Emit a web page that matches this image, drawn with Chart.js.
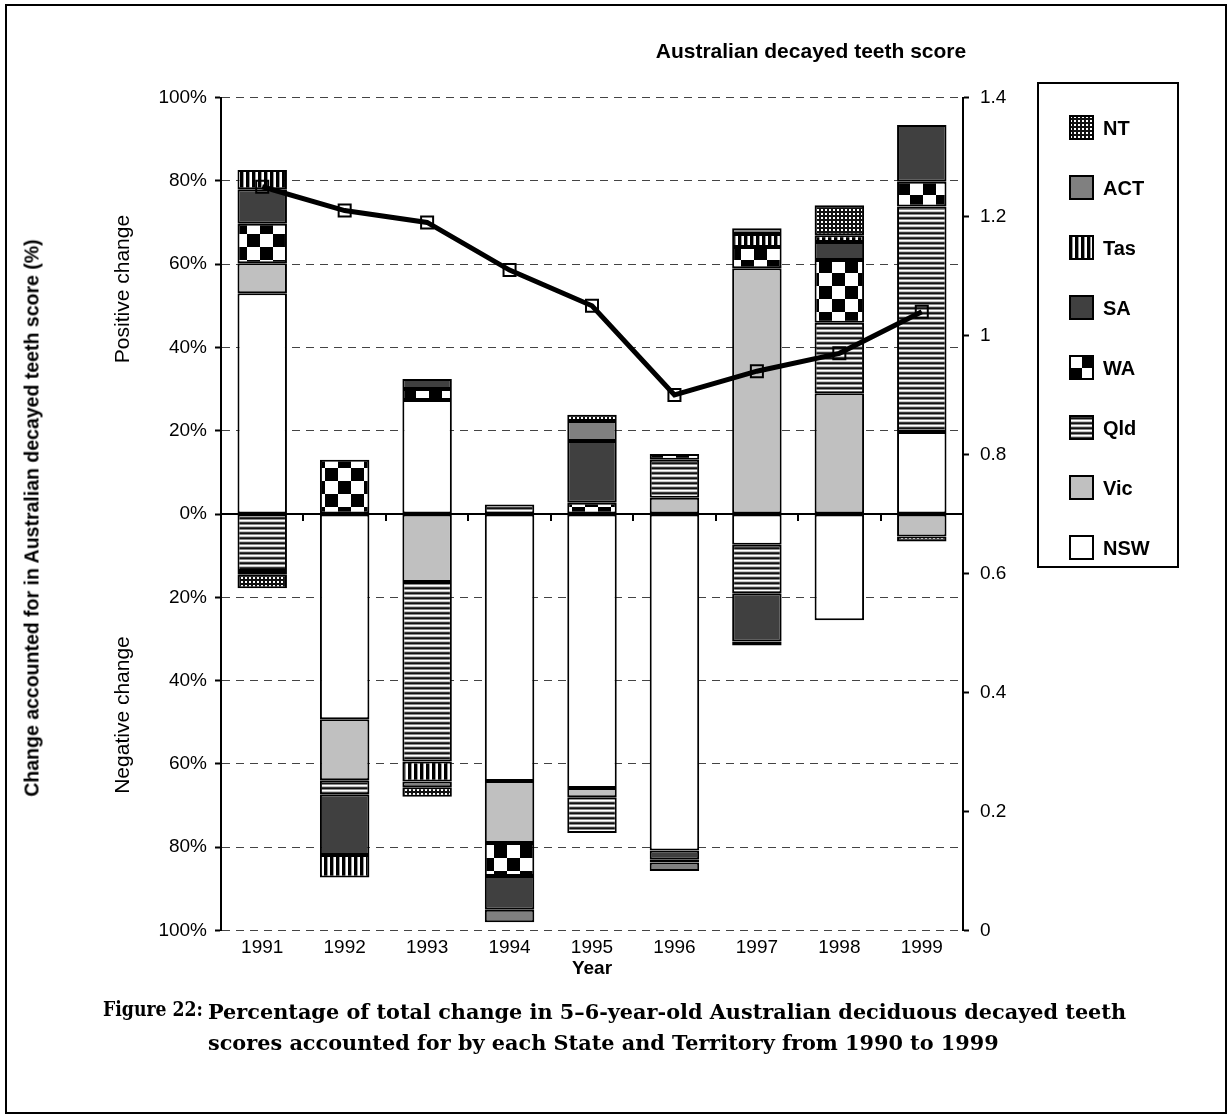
<!DOCTYPE html>
<html>
<head>
<meta charset="utf-8">
<script src="https://cdn.jsdelivr.net/npm/chart.js@4.4.0/dist/chart.umd.min.js"></script>
<style>
  body { margin: 0; background: #fff; font-family: "Liberation Sans", Arial, sans-serif; color: #000; }
  #page { position: relative; width: 1231px; height: 1117px; overflow: hidden; }
  #frame { position: absolute; left: 5px; top: 4px; width: 1218px; height: 1106px; border: 2px solid #000; }
  #chart { position: absolute; left: 0; top: 0; }
  .vt { position: absolute; transform: translate(-50%, -50%) rotate(-90deg); white-space: nowrap; }
  .ct { position: absolute; transform: translate(-50%, -50%); white-space: nowrap; }
  #legend { position: absolute; left: 1037px; top: 82px; width: 138px; height: 482px; border: 2px solid #000; }
  .item { position: absolute; left: 30px; height: 25px; font-weight: bold; font-size: 20px; line-height: 25px; white-space: nowrap; }
  .item canvas { position: absolute; left: 0; top: 0; }
  .item span { position: absolute; left: 34px; top: 1px; }
  #cap1, #cap2 { position: absolute; font-family: "DejaVu Serif", serif; font-weight: bold; font-size: 20.8px; white-space: nowrap; }
  #cap1 { left: 103px; top: 996px; transform: scaleX(0.83); transform-origin: 0 0; }
  #cap2 { left: 208px; top: 996px; line-height: 31px; }
</style>
</head>
<body>
<div id="page">
  <div id="frame"></div>
  <canvas id="chart" width="1231" height="1117"></canvas>
  <div class="ct" style="left:811px; top:51px; font-weight:bold; font-size:21px;">Australian decayed teeth score</div>
  <div class="vt" style="left:32px; top:518px; font-weight:bold; font-size:19.5px;">Change accounted for in Australian decayed teeth score (%)</div>
  <div class="vt" style="left:122px; top:289px; font-size:21px;">Positive change</div>
  <div class="vt" style="left:122px; top:715px; font-size:21px;">Negative change</div>
  <div class="ct" style="left:592px; top:968px; font-weight:bold; font-size:19px;">Year</div>
  <div id="legend"></div>
  <div id="cap1">Figure 22:</div>
  <div id="cap2">Percentage of total change in 5–6-year-old Australian deciduous decayed teeth<br>scores accounted for by each State and Territory from 1990 to 1999</div>
</div>
<script>
// years on the x axis
const years = ['1991', '1992', '1993', '1994', '1995', '1996', '1997', '1998', '1999'];

// share of the total change per state (%), positive up, negative down
const nsw = [53.0, -49.3, 27.4, -64.1, -65.8, -80.8, -7.4, -25.5, 19.7];
const vic = [7.2, -14.6, -16.3, -14.9, -2.2, 3.9, 59.0, 29.0, -5.4];
const qld = [-13.7, -3.4, -43.1, 2.3, -8.6, 9.1, -11.6, 16.9, 54.1];
const wa  = [9.5, 13.0, 2.6, -7.9, 2.7, 1.4, 5.1, 15.1, 6.0];
const sa  = [8.3, -14.6, 2.4, -8.1, 14.8, -2.2, -11.6, 4.3, 13.6];
const tas = [4.6, -5.4, -4.8, 0, 0, -0.7, 3.1, 1.6, 0];
const act = [-0.9, 0, -1.4, -3.0, 4.8, -2.0, 1.4, 0, 0];
const nt  = [-3.2, 0, -2.3, 0, 1.5, 0, -1.0, 7.2, -1.2];

// Australian decayed teeth score (right axis)
const score = [1.25, 1.21, 1.19, 1.11, 1.05, 0.90, 0.94, 0.97, 1.04];

const states = ['NSW', 'Vic', 'Qld', 'WA', 'SA', 'Tas', 'ACT', 'NT'];
const stateValues = [nsw, vic, qld, wa, sa, tas, act, nt];

const font = '"Liberation Sans", Arial, sans-serif';

function makePattern(kind) {
    const c = document.createElement('canvas');
    const g = c.getContext('2d');
    if (kind == 'hlines') {
        c.width = 4; c.height = 5;
        const rows = ['#ffffff', '#c8c8c8', '#3a3a3a', '#111111', '#8a8a8a'];
        rows.forEach((col, i) => { g.fillStyle = col; g.fillRect(0, i, 4, 1); });
    } else if (kind == 'checker') {
        c.width = 26; c.height = 26;
        g.fillStyle = '#fff'; g.fillRect(0, 0, 26, 26);
        g.fillStyle = '#000'; g.fillRect(13, 0, 13, 13); g.fillRect(0, 13, 13, 13);
    } else if (kind == 'vlines') {
        c.width = 6; c.height = 4;
        g.fillStyle = '#fff'; g.fillRect(0, 0, 6, 4);
        g.fillStyle = '#000'; g.fillRect(0, 0, 3, 4);
        g.fillStyle = '#999'; g.fillRect(3, 0, 1, 4);
    } else if (kind == 'grid') {
        c.width = 4; c.height = 4;
        g.fillStyle = '#111'; g.fillRect(0, 0, 4, 4);
        g.fillStyle = '#fff'; g.fillRect(1, 1, 2, 2);
    }
    return g.createPattern(c, 'repeat');
}

const fills = {
    NSW: '#ffffff',
    Vic: '#c0c0c0',
    Qld: makePattern('hlines'),
    WA: makePattern('checker'),
    SA: '#404040',
    Tas: makePattern('vlines'),
    ACT: '#808080',
    NT: makePattern('grid')
};

const datasets = states.map((s, i) => ({
    type: 'bar',
    label: s,
    data: stateValues[i].map(v => v === 0 ? null : v),
    backgroundColor: fills[s],
    borderColor: '#000',
    borderWidth: 2,
    borderSkipped: false,
    stack: 'states',
    order: 1,
    xAxisID: 'x',
    yAxisID: 'y',
    barPercentage: 1,
    categoryPercentage: 0.6
}));

datasets.push({
    type: 'line',
    label: 'Australian decayed teeth score',
    data: score,
    xAxisID: 'x',
    yAxisID: 'y2',
    borderColor: '#000',
    borderWidth: 5,
    tension: 0,
    pointStyle: 'rect',
    pointRadius: 8.5,
    pointBorderWidth: 2,
    pointBorderColor: '#000',
    pointBackgroundColor: 'rgba(255,255,255,0)',
    order: 0
});

const ctx = document.getElementById('chart');
new Chart(ctx, {
    data: { labels: years, datasets: datasets },
    options: {
        responsive: false,
        animation: false,
        layout: { padding: { top: 97.5, left: 0, right: 0, bottom: 0 } },
        plugins: { legend: { display: false }, tooltip: { enabled: false } },
        scales: {
            x: {
                stacked: true,
                offset: true,
                grid: { display: false },
                border: { display: false },
                ticks: { color: '#000', font: { family: font, size: 19 }, padding: -2, maxRotation: 0 },
                afterFit: function (s) { s.height = 186.5; }
            },
            x2: {
                type: 'category',
                labels: years,
                offset: true,
                position: { y: 0 },
                grid: { offset: true, drawOnChartArea: false, tickLength: 6, color: '#000', lineWidth: 2 },
                ticks: { display: false },
                border: { color: '#000', width: 2 }
            },
            y: {
                stacked: true,
                min: -100,
                max: 100,
                ticks: {
                    stepSize: 20,
                    color: '#000',
                    padding: 8,
                    font: { family: font, size: 19 },
                    callback: function (v) { return Math.abs(v) + '%'; }
                },
                grid: { color: '#444', lineWidth: 1, tickColor: '#000', tickLength: 6, tickWidth: 2, tickBorderDash: [] },
                border: { color: '#000', width: 2, dash: [8, 6] },
                afterFit: function (s) { s.width = 221; }
            },
            y2: {
                position: 'right',
                min: 0,
                max: 1.4,
                ticks: {
                    stepSize: 0.2,
                    color: '#000',
                    padding: 11,
                    font: { family: font, size: 19 },
                    callback: function (v) { return String(+v.toFixed(1)); }
                },
                grid: { drawOnChartArea: false, color: '#000', tickColor: '#000', tickLength: 6, tickWidth: 2, tickBorderDash: [] },
                border: { color: '#000', width: 2 },
                afterFit: function (s) { s.width = 268; }
            }
        }
    }
});

// legend, top to bottom in reverse stacking order
const legend = document.getElementById('legend');
states.slice().reverse().forEach((s, i) => {
    const item = document.createElement('div');
    item.className = 'item';
    item.style.top = (31 + i * 60) + 'px';
    const sw = document.createElement('canvas');
    sw.width = 25; sw.height = 25;
    const g = sw.getContext('2d');
    g.fillStyle = fills[s];
    g.fillRect(0, 0, 25, 25);
    g.lineWidth = 2;
    g.strokeStyle = '#000';
    g.strokeRect(1, 1, 23, 23);
    const t = document.createElement('span');
    t.textContent = s;
    item.appendChild(sw);
    item.appendChild(t);
    legend.appendChild(item);
});
</script>
</body>
</html>
